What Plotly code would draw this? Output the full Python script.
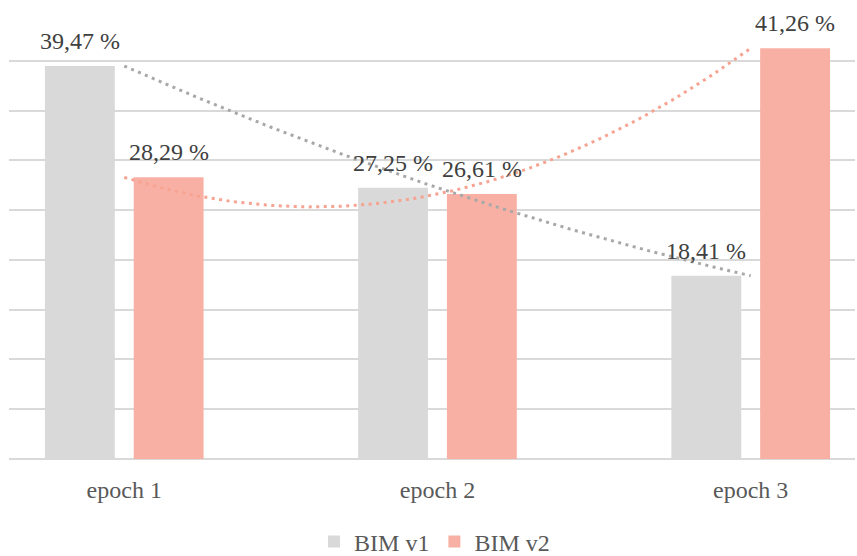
import numpy as np
import plotly.graph_objects as go

categories = ["epoch 1", "epoch 2", "epoch 3"]
bim_v1 = [39.47, 27.25, 18.41]
bim_v2 = [28.29, 26.61, 41.26]
series_names = ["BIM v1", "BIM v2"]

v1_color = "#D9D9D9"
v2_color = "#F8B0A4"
v1_trend = "#A8A8A8"
v2_trend = "#F6A391"
font_family = "Liberation Serif, Times New Roman, serif"

xpos = np.arange(len(categories))

fig = go.Figure()
fig.add_trace(go.Bar(x=xpos, y=bim_v1, name=series_names[0],
                     marker=dict(color=v1_color, line=dict(width=0))))
fig.add_trace(go.Bar(x=xpos, y=bim_v2, name=series_names[1],
                     marker=dict(color=v2_color, line=dict(width=0))))

# second-order polynomial trendlines through category centres
xs = np.linspace(0, len(categories) - 1, 120)
for vals, col in ((bim_v1, v1_trend), (bim_v2, v2_trend)):
    coef = np.polyfit(xpos, vals, 2)
    fig.add_trace(go.Scatter(x=xs, y=np.polyval(coef, xs), mode="lines",
                             line=dict(color=col, width=3, dash="3px,4.5px"),
                             showlegend=False, hoverinfo="skip"))

# value labels above each bar
offset = 0.1417
for vals, dx in ((bim_v1, -offset), (bim_v2, offset)):
    for i, v in enumerate(vals):
        fig.add_annotation(x=i + dx, y=v, text=f"{v:.2f}".replace(".", ",") + " %",
                           showarrow=False, yanchor="bottom", yshift=10,
                           font=dict(family=font_family, size=24, color="#404040"))

fig.update_layout(
    width=857, height=556,
    margin=dict(l=9, r=2, t=11, b=97, autoexpand=False),
    paper_bgcolor="white", plot_bgcolor="white",
    barmode="group", bargap=0.433, bargroupgap=0.213,
    font=dict(family=font_family, size=24, color="#595959"),
    showlegend=True,
    legend=dict(orientation="h", x=0.503, xanchor="center", y=-0.185,
                yanchor="middle", font=dict(size=24, color="#595959"),
                itemwidth=30, traceorder="normal"),
    xaxis=dict(range=[-0.368, 2.333], tickvals=list(xpos), ticktext=categories,
               showgrid=False, zeroline=False, showline=False, ticks="",
               ticklabelstandoff=14, tickfont=dict(size=24, color="#595959")),
    yaxis=dict(range=[0, 45], dtick=5, showticklabels=False, showgrid=True,
               gridcolor="#D9D9D9", gridwidth=1.5, zeroline=True,
               zerolinecolor="#D9D9D9", zerolinewidth=1.5, showline=False),
)

fig.write_html("out.html")
